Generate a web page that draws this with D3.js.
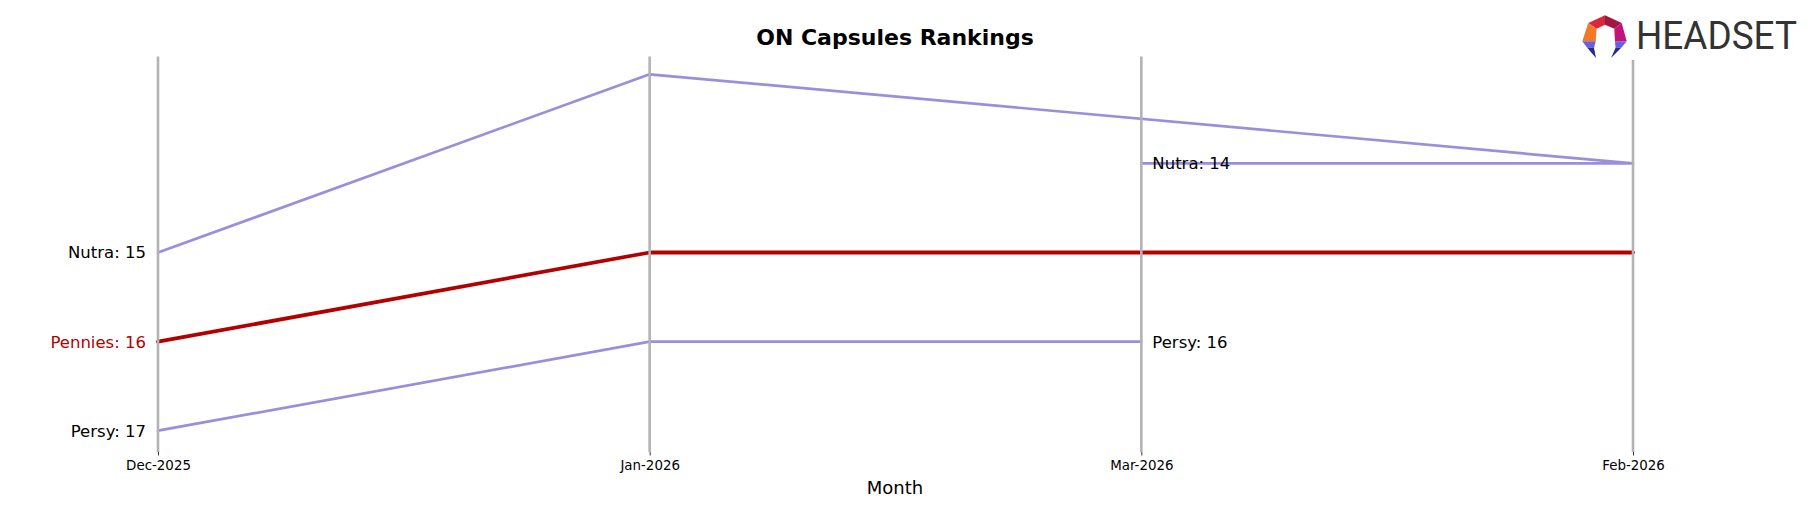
<!DOCTYPE html>
<html>
<head>
<meta charset="utf-8">
<script src="https://cdn.jsdelivr.net/npm/d3@7"></script>
<style>
  html, body { margin: 0; padding: 0; background: #fff; }
  svg { display: block; }
</style>
</head>
<body>
<svg id="chart" width="1818" height="507"></svg>
<script>
// ---- data ----
const title = "ON Capsules Rankings";
const xLabel = "Month";
const months = ["Dec-2025", "Jan-2026", "Mar-2026", "Feb-2026"];

const nutraMonths = ["Dec-2025", "Jan-2026", "Feb-2026", "Mar-2026"];
const nutraRanks = [15, 13, 14, 14];

const penniesMonths = ["Dec-2025", "Jan-2026", "Mar-2026", "Feb-2026"];
const penniesRanks = [16, 15, 15, 15];

const persyMonths = ["Dec-2025", "Jan-2026", "Mar-2026"];
const persyRanks = [17, 16, 16];

const series = [
  { name: "Nutra", months: nutraMonths, ranks: nutraRanks, highlight: false },
  { name: "Persy", months: persyMonths, ranks: persyRanks, highlight: false },
  { name: "Pennies", months: penniesMonths, ranks: penniesRanks, highlight: true }
];

// ---- layout ----
const svg = d3.select("#chart");
const plotTop = 56.5, plotBottom = 452;
const x = d3.scalePoint().domain(months).range([158, 1633]);
const y = d3.scaleLinear().domain([13, 17]).range([74.3, 430.7]);

const purple = "#9b8edb";
const red = "#b30000";
const grid = "#b3b3b3";

// series lines
const line = d3.line().x(d => x(d.m)).y(d => y(d.r));
series.forEach(s => {
  const pts = s.months.map((m, i) => ({ m, r: s.ranks[i] }));
  svg.append("path")
    .attr("d", line(pts))
    .attr("fill", "none")
    .attr("stroke", s.highlight ? red : purple)
    .attr("stroke-width", s.highlight ? 3.8 : 2.7)
    .attr("stroke-linejoin", "round")
    .attr("stroke-linecap", "round");
});

// vertical month lines
svg.append("g").selectAll("line").data(months).join("line")
  .attr("x1", d => x(d)).attr("x2", d => x(d))
  .attr("y1", plotTop).attr("y2", plotBottom)
  .attr("stroke", grid).attr("stroke-width", 2.6);

// labels
series.forEach(s => {
  const first = { m: s.months[0], r: s.ranks[0] };
  svg.append("text")
    .attr("x", x(first.m) - 12).attr("y", y(first.r))
    .attr("dy", "0.36em")
    .attr("text-anchor", "end")
    .attr("font-family", "DejaVu Sans")
    .attr("font-size", 16.5)
    .attr("fill", s.highlight ? red : "#000")
    .text(`${s.name}: ${first.r}`);
  const li = s.months.length - 1;
  const last = { m: s.months[li], r: s.ranks[li] };
  if (last.m !== months[months.length - 1]) {
    svg.append("text")
      .attr("x", x(last.m) + 11).attr("y", y(last.r))
      .attr("dy", "0.36em")
      .attr("text-anchor", "start")
      .attr("font-family", "DejaVu Sans")
      .attr("font-size", 16.5)
      .attr("fill", s.highlight ? red : "#000")
      .text(`${s.name}: ${last.r}`);
  }
});

// x axis (ticks + labels only)
const xAxis = svg.append("g")
  .attr("transform", `translate(0,${plotBottom})`)
  .call(d3.axisBottom(x).tickSize(3.5).tickPadding(4.5));
xAxis.select(".domain").remove();
xAxis.selectAll(".tick line").attr("stroke", "#000").attr("stroke-width", 0.8);
xAxis.selectAll(".tick text")
  .attr("font-family", "DejaVu Sans").attr("font-size", 13.4).attr("fill", "#000");

// axis title
svg.append("text")
  .attr("x", 895).attr("y", 494)
  .attr("text-anchor", "middle")
  .attr("font-family", "DejaVu Sans").attr("font-size", 18)
  .text(xLabel);

// chart title
svg.append("text")
  .attr("x", 895).attr("y", 44.5)
  .attr("text-anchor", "middle")
  .attr("font-family", "DejaVu Sans").attr("font-weight", "bold").attr("font-size", 22)
  .text(title);

// logo
svg.append("rect").attr("x", 1577).attr("y", 8).attr("width", 230).attr("height", 52).attr("fill", "#fff");
const logo = svg.append("g").attr("transform", "translate(1575,8)");
const polys = [
  { p: [[30,7.3],[13.3,15],[21.7,20.7],[30,16.7]], c: "#d9263a" },
  { p: [[30,7.3],[46.7,15],[39.3,20.7],[30,16.7]], c: "#a3173f" },
  { p: [[13.3,15],[7.3,33.3],[20.7,33.3],[21.7,20.7]], c: "#f27a25" },
  { p: [[46.7,15],[51.7,33.3],[40,33.3],[39.3,20.7]], c: "#c3127c" },
  { p: [[7.3,33.3],[20.7,33.3],[19,40],[12,39.5]], c: "#6a5fe0" },
  { p: [[12,39.5],[19,40],[21,50]], c: "#262a8a" },
  { p: [[51.7,33.3],[40,33.3],[40.5,40],[46.5,39.5]], c: "#6a5fe0" },
  { p: [[46.5,39.5],[40.5,40],[36,50]], c: "#262a8a" }
];
polys.forEach(d => {
  logo.append("polygon").attr("points", d.p.map(q => q.join(",")).join(" ")).attr("fill", d.c);
});
svg.append("text")
  .attr("x", 1636).attr("y", 49)
  .attr("font-family", "Roboto").attr("font-size", 38)
  .attr("fill", "#333")
  .attr("textLength", 161).attr("lengthAdjust", "spacingAndGlyphs")
  .text("HEADSET");
</script>
</body>
</html>
